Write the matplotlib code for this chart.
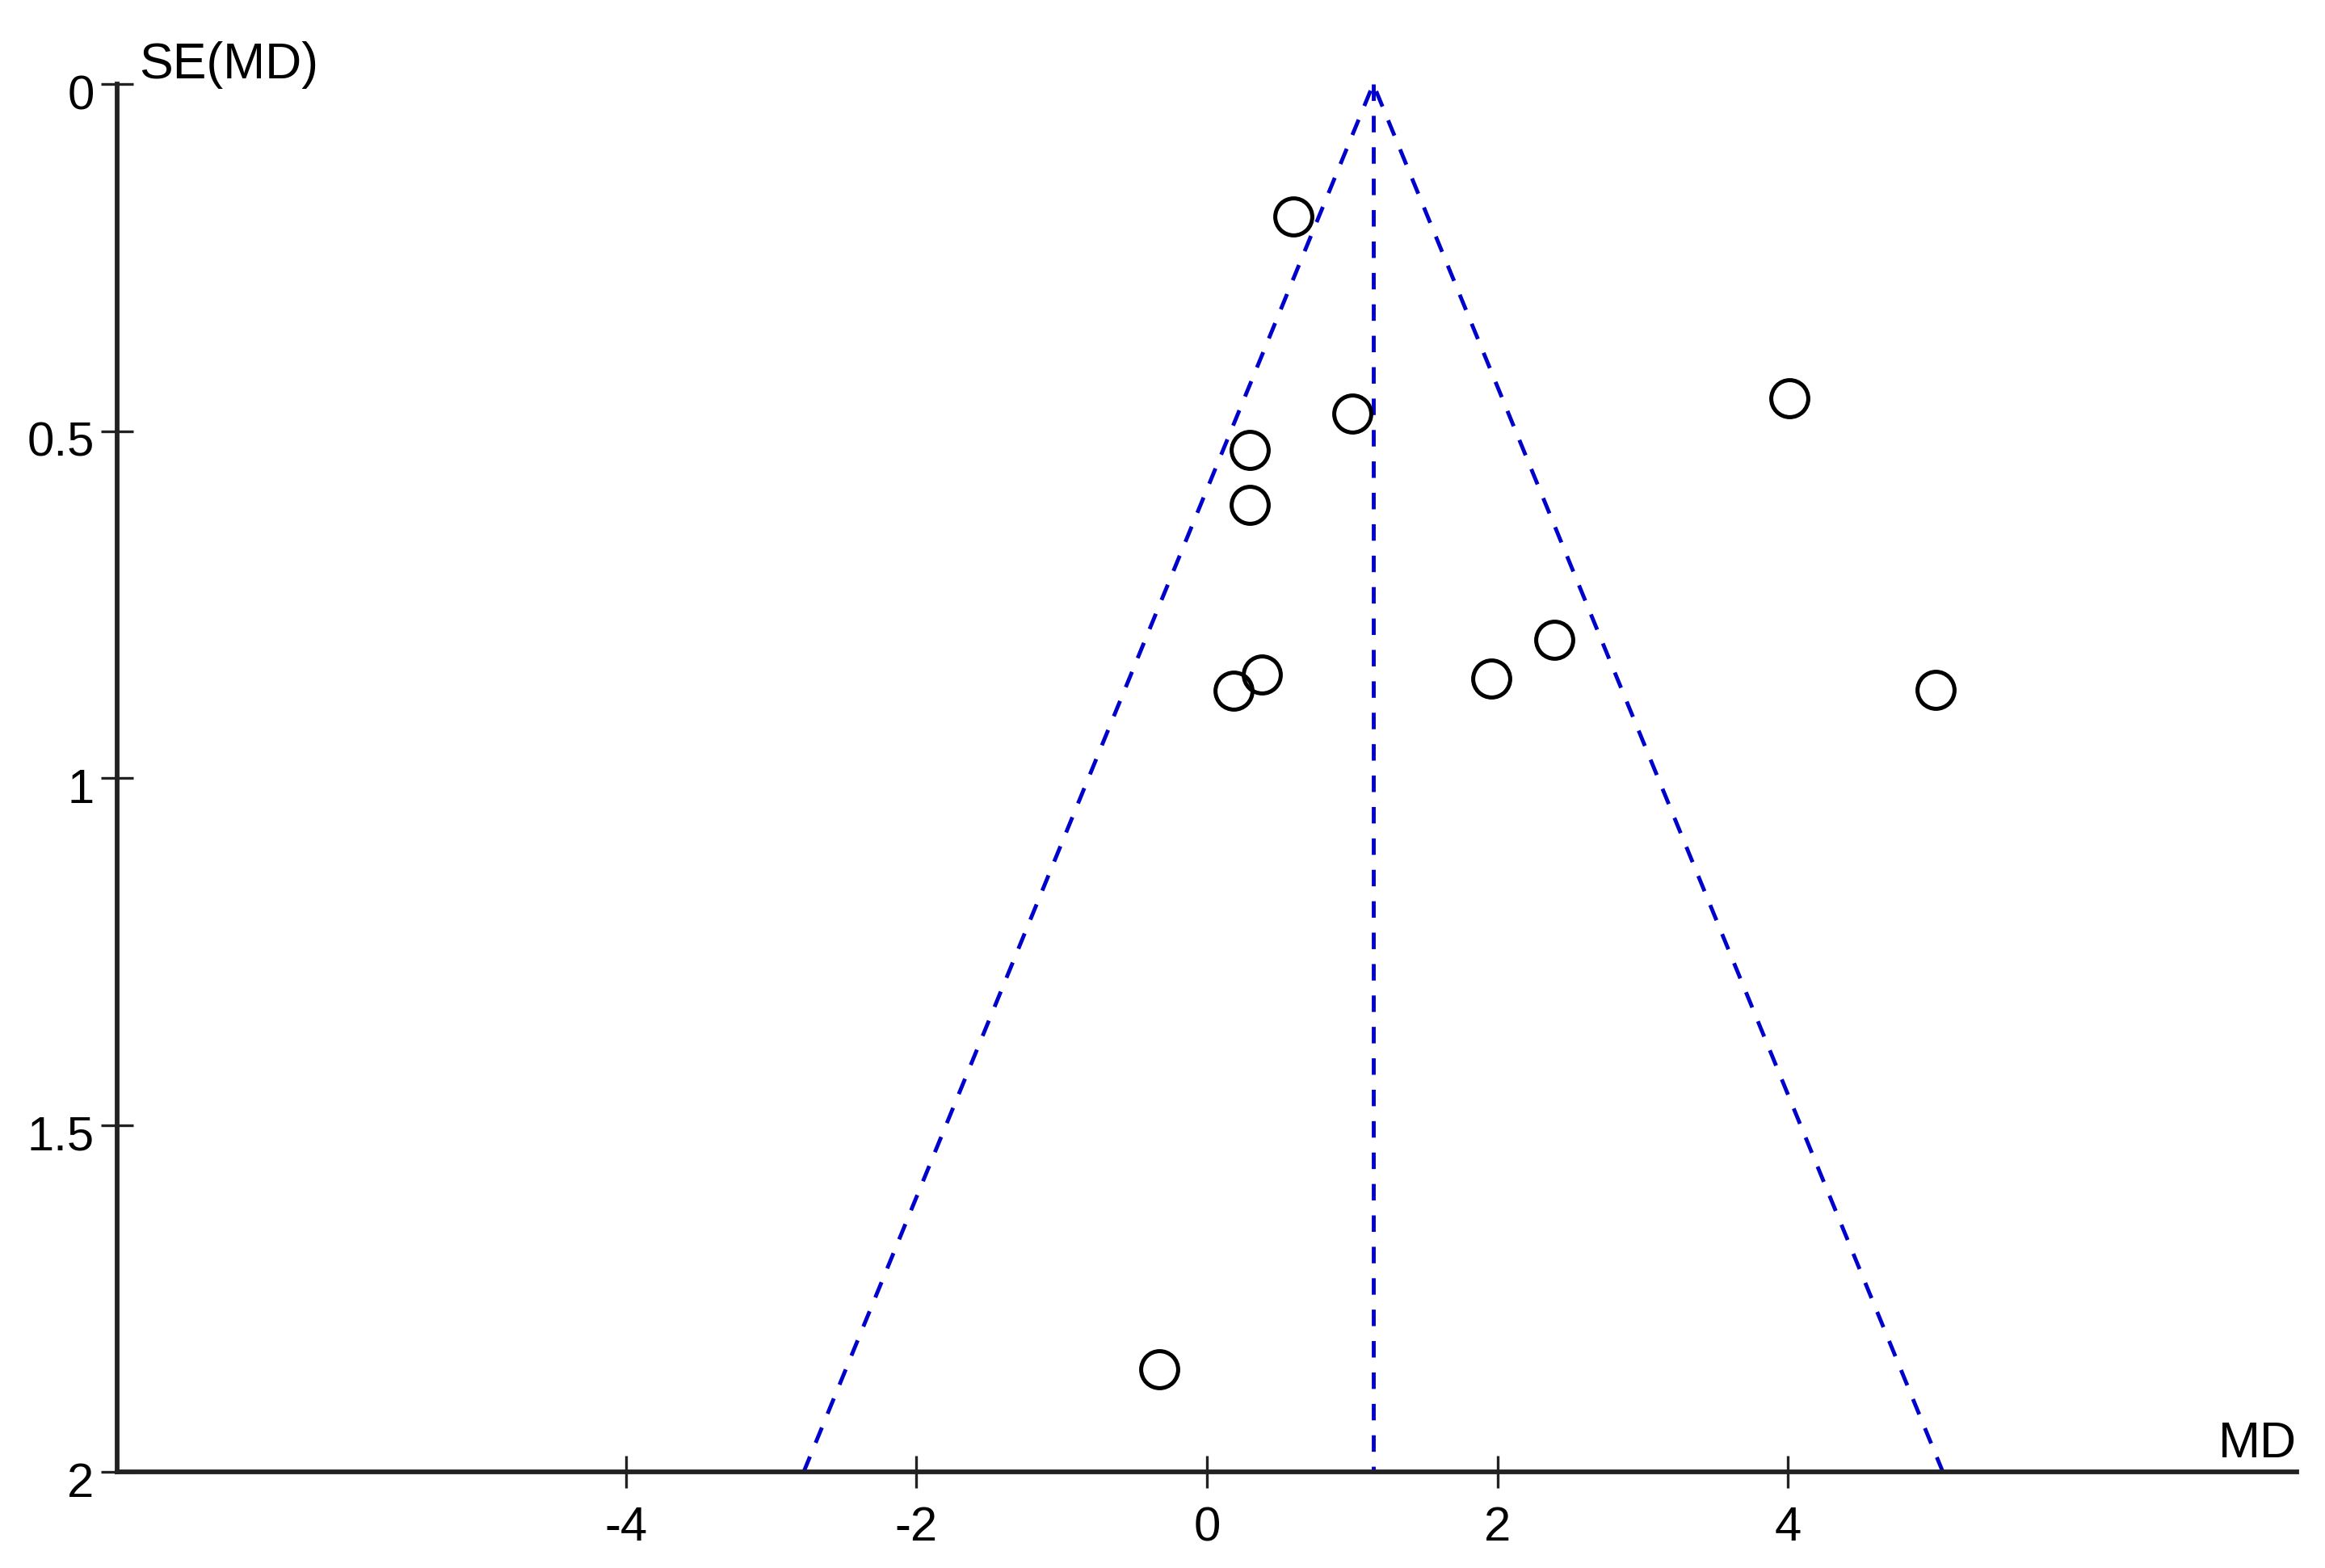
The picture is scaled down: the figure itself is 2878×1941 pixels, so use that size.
import matplotlib
matplotlib.use('Agg')
import matplotlib.pyplot as plt
import matplotlib.transforms as mtransforms

# study estimates
md = [0.595, 1.00, 0.297, 0.297, 4.007, 2.392, 1.957, 0.381, 0.186, 5.015, -0.329]
se = [0.191, 0.475, 0.527, 0.607, 0.453, 0.801, 0.857, 0.851, 0.874, 0.873, 1.852]

pooled_md = 1.145
z = 1.96
se_range = [0, 2]

xticks = [-4, -2, 0, 2, 4]
xticklabels = ['-4', '-2', '0', '2', '4']
yticks = [0, 0.5, 1, 1.5, 2]
yticklabels = ['0', '0.5', '1', '1.5', '2']

plt.rcParams['font.family'] = ['Liberation Sans', 'DejaVu Sans']

fig = plt.figure(figsize=(14.39, 9.705), dpi=200)
ax = fig.add_axes([0.0504, 0.0613, 0.9374, 0.8851])

blue = '#0000cc'
dash = (0, (4.2, 3.8))

# funnel: pseudo 95% limits and pooled estimate
ax.plot([pooled_md - z * se_range[1], pooled_md, pooled_md + z * se_range[1]],
        [se_range[1], se_range[0], se_range[1]],
        color=blue, lw=1.75, linestyle=dash, clip_on=False, zorder=2)
ax.plot([pooled_md, pooled_md], se_range, color=blue, lw=1.75,
        linestyle=dash, clip_on=False, zorder=2)

ax.plot(md, se, 'o', ms=16.5, mfc='none', mec='black', mew=1.8,
        clip_on=False, zorder=3)

ax.set_xlim(-7.5, 7.5)
ax.set_ylim(2, 0)

ax.set_xticks(xticks)
ax.set_xticklabels(xticklabels)
ax.set_yticks(yticks)
ax.set_yticklabels(yticklabels)

for s in ['top', 'right']:
    ax.spines[s].set_visible(False)
for s in ['left', 'bottom']:
    ax.spines[s].set_linewidth(2.1)
    ax.spines[s].set_color('#222222')

ax.tick_params(axis='both', direction='inout', length=14.4, width=1.2,
               color='#222222', labelsize=21.5, labelcolor='black')
ax.tick_params(axis='x', pad=8)
ax.tick_params(axis='y', pad=3)

# y tick labels sit a little below their ticks in the original
offset = mtransforms.ScaledTranslation(0, -3.5 / 72, fig.dpi_scale_trans)
for lab in ax.get_yticklabels():
    lab.set_transform(lab.get_transform() + offset)

ax.text(-7.35, -0.008, 'SE(MD)', fontsize=22.5, ha='left', va='baseline',
        clip_on=False)
ax.text(7.5, 1.979, 'MD', fontsize=22.5, ha='right', va='baseline',
        clip_on=False)

plt.savefig('out.png', dpi=200)
